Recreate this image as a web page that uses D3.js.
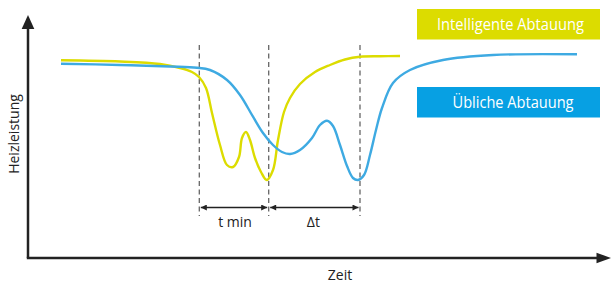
<!DOCTYPE html>
<html>
<head>
<meta charset="utf-8">
<script src="https://cdn.jsdelivr.net/npm/d3@7"></script>
<style>
  body { margin: 0; background: #fff; }
  text { font-family: 'Open Sans', sans-serif; }
</style>
</head>
<body>
<div id="chart"></div>
<script>
// Data (time / heating power in arbitrary units)
const timeIntelligent  = [33, 92, 132, 152, 164, 171, 178, 184, 192, 199, 205, 211, 214, 218, 222, 227, 233, 238.7, 245, 250, 256, 262, 272, 287, 302, 317, 332, 352, 372];
const powerIntelligent = [197.7, 196.5, 194, 190, 186, 181, 170, 145, 113, 93, 91, 101, 120, 126, 118, 100, 86, 78, 88, 118, 146, 160, 174, 186, 193, 198.5, 201.3, 201.8, 202];
const timeStandard  = [33, 92, 142, 169, 182, 199, 212, 225, 235, 245, 254, 262, 272, 284, 292, 299, 305, 312, 319, 325, 330, 336, 342, 348, 354, 365, 382, 415, 465, 549];
const powerStandard = [194.3, 193, 191.5, 190.3, 188, 178, 163, 141.3, 125, 113, 106, 104, 108, 120, 133, 137.3, 132, 113, 92, 80, 78, 83, 103, 128, 150, 175, 188, 198, 203, 203.7];
const markerTimes = [171.3, 240.7, 332];
const spanLabels = ['t min', 'Δt'];
const seriesNames = ['Intelligente Abtauung', 'Übliche Abtauung'];
const seriesColors = ['#dcdc00', '#3eaae2'];
const boxColors = ['#dcdc00', '#07a0e3'];
const axisLabels = { x: 'Zeit', y: 'Heizleistung' };

const width = 611, height = 284;
const svg = d3.select('#chart').append('svg')
    .attr('width', width)
    .attr('height', height);

const xScale = d3.scaleLinear().domain([0, 583]).range([28, 611]);
const yScale = d3.scaleLinear().domain([0, 243]).range([258, 15]);

// Axes with arrowheads
const axisColor = '#222';
svg.append('line')
    .attr('x1', xScale(0)).attr('y1', yScale(0))
    .attr('x2', xScale(0)).attr('y2', yScale(232))
    .attr('stroke', axisColor).attr('stroke-width', 2.5);
svg.append('line')
    .attr('x1', xScale(0) - 1.2).attr('y1', yScale(0))
    .attr('x2', xScale(572)).attr('y2', yScale(0))
    .attr('stroke', axisColor).attr('stroke-width', 2.5);
svg.append('path')
    .attr('d', `M${xScale(0)},${yScale(243)} L${xScale(0) + 6.3},${yScale(229)} L${xScale(0) - 6.3},${yScale(229)} Z`)
    .attr('fill', axisColor);
svg.append('path')
    .attr('d', `M${xScale(583)},${yScale(0)} L${xScale(568.5)},${yScale(0) - 5.3} L${xScale(568.5)},${yScale(0) + 5.3} Z`)
    .attr('fill', axisColor);

// Axis labels
svg.append('text')
    .attr('x', 340).attr('y', 280)
    .attr('text-anchor', 'middle')
    .style('font-size', '14px')
    .attr('fill', '#222')
    .text(axisLabels.x);
svg.append('text')
    .attr('transform', 'translate(19,134) rotate(-90)')
    .attr('text-anchor', 'middle')
    .style('font-size', '14px')
    .attr('fill', '#222')
    .text(axisLabels.y);

// Dashed marker lines
svg.selectAll('.marker')
    .data(markerTimes)
    .enter().append('line')
    .attr('class', 'marker')
    .attr('x1', d => xScale(d)).attr('x2', d => xScale(d))
    .attr('y1', 45).attr('y2', 216)
    .attr('stroke', '#666')
    .attr('stroke-width', 1.3)
    .attr('stroke-dasharray', '5,3.5');

// Double arrows between markers
const defs = svg.append('defs');
defs.append('marker')
    .attr('id', 'arrow')
    .attr('viewBox', '0 0 10 10')
    .attr('refX', 10).attr('refY', 5)
    .attr('markerWidth', 9).attr('markerHeight', 6)
    .attr('markerUnits', 'userSpaceOnUse')
    .attr('orient', 'auto-start-reverse')
    .append('path')
    .attr('d', 'M0,0 L10,5 L0,10 Z')
    .attr('fill', '#222');

const spans = d3.pairs(markerTimes);
svg.selectAll('.span')
    .data(spans)
    .enter().append('line')
    .attr('class', 'span')
    .attr('x1', d => xScale(d[0]) + 1.5)
    .attr('x2', d => xScale(d[1]) - 1.5)
    .attr('y1', 207.5).attr('y2', 207.5)
    .attr('stroke', '#222')
    .attr('stroke-width', 1.3)
    .attr('marker-start', 'url(#arrow)')
    .attr('marker-end', 'url(#arrow)');
svg.selectAll('.span-label')
    .data(spans)
    .enter().append('text')
    .attr('class', 'span-label')
    .attr('x', (d, i) => (xScale(d[0]) + xScale(d[1])) / 2 + (i === 0 ? 1 : -1))
    .attr('y', 227)
    .attr('text-anchor', 'middle')
    .style('font-size', '14px')
    .attr('fill', '#222')
    .text((d, i) => spanLabels[i]);

// Curves
const line = d3.line()
    .x(d => xScale(d[0]))
    .y(d => yScale(d[1]))
    .curve(d3.curveCatmullRom.alpha(0.5));
const series = [
    d3.zip(timeIntelligent, powerIntelligent),
    d3.zip(timeStandard, powerStandard)
];
svg.selectAll('.curve')
    .data(series)
    .enter().append('path')
    .attr('class', 'curve')
    .attr('d', line)
    .attr('fill', 'none')
    .attr('stroke', (d, i) => seriesColors[i])
    .attr('stroke-width', 2.4);

// Legend boxes
const legend = svg.selectAll('.legend')
    .data(seriesNames)
    .enter().append('g')
    .attr('class', 'legend')
    .attr('transform', (d, i) => `translate(417,${i === 0 ? 9 : 87})`);
legend.append('rect')
    .attr('width', 183).attr('height', 30.5)
    .attr('fill', (d, i) => boxColors[i]);
legend.append('text')
    .attr('x', (d, i) => i === 0 ? 93.5 : 96)
    .attr('y', 20.5)
    .attr('text-anchor', 'middle')
    .style('font-size', '16px')
    .attr('fill', '#fff')
    .attr('textLength', (d, i) => i === 0 ? 147 : 121)
    .attr('lengthAdjust', 'spacingAndGlyphs')
    .text(d => d);
</script>
</body>
</html>
